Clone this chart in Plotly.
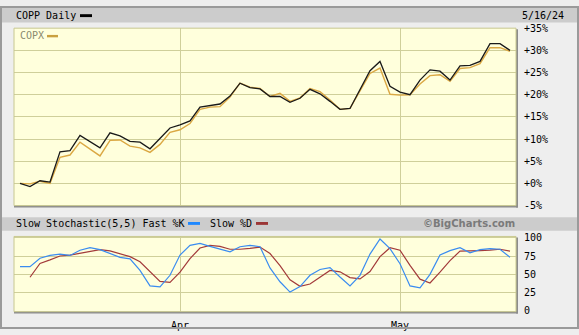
import plotly.graph_objects as go

W, H = 579, 335

dates = [
    "2024-03-07", "2024-03-08", "2024-03-11", "2024-03-12", "2024-03-13", "2024-03-14", "2024-03-15",
    "2024-03-18", "2024-03-19", "2024-03-20", "2024-03-21", "2024-03-22", "2024-03-25", "2024-03-26",
    "2024-03-27", "2024-03-28",
    "2024-04-01", "2024-04-02", "2024-04-03", "2024-04-04", "2024-04-05", "2024-04-08", "2024-04-09",
    "2024-04-10", "2024-04-11", "2024-04-12", "2024-04-15", "2024-04-16", "2024-04-17", "2024-04-18",
    "2024-04-19", "2024-04-22", "2024-04-23", "2024-04-24", "2024-04-25", "2024-04-26", "2024-04-29",
    "2024-04-30",
    "2024-05-01", "2024-05-02", "2024-05-03", "2024-05-06", "2024-05-07", "2024-05-08", "2024-05-09",
    "2024-05-10", "2024-05-13", "2024-05-14", "2024-05-15", "2024-05-16",
]

copp = [0.0, -0.7, 0.6, 0.3, 7.1, 7.4, 10.8, 9.4, 8.0, 11.4, 10.7, 9.5, 9.3, 7.8, 10.1, 12.5,
        13.2, 14.1, 17.2, 17.5, 17.9, 19.7, 22.6, 21.6, 21.3, 19.6, 19.6, 18.3, 19.2, 21.2, 20.2,
        18.5, 16.7, 16.9, 21.2, 25.4, 27.5, 21.9, 20.6, 20.0, 23.3, 25.6, 25.3, 23.3, 26.5, 26.6,
        27.5, 31.5, 31.5, 30.0]

copx = [0.0, -0.1, 0.5, 0.0, 5.9, 6.4, 9.3, 7.8, 6.2, 9.7, 9.8, 8.4, 8.0, 7.0, 8.8, 11.5,
        12.1, 13.5, 16.7, 17.2, 17.3, 19.5, 22.6, 21.7, 21.4, 19.6, 20.3, 18.5, 19.3, 21.4, 20.7,
        18.8, 16.7, 16.9, 21.0, 24.8, 26.0, 20.1, 19.9, 20.0, 22.4, 24.3, 24.5, 23.0, 25.9, 26.1,
        27.0, 30.6, 30.6, 29.8]

fast_k = [60.5, 60.5, 71.9, 75.8, 77.6, 75.8, 82.9, 86.3, 83.7, 78.4, 73.2, 71.1, 55.3, 34.2,
          32.9, 48.7, 76.3, 89.5, 92.1, 88.2, 84.2, 80.7, 87.6, 89.5, 87.6, 58.7, 39.9, 25.8,
          33.3, 48.7, 56.6, 59.2, 46.4, 34.2, 48.7, 77.6, 98.2, 85.0, 64.5, 34.2, 31.6, 50.0,
          76.3, 82.4, 86.3, 79.3, 83.7, 85.0, 84.2, 73.2]

slow_d = [None, 46.0, 64.9, 69.7, 75.0, 76.3, 78.9, 81.6, 83.7, 82.0, 78.0, 74.1, 67.1, 53.9,
          40.3, 39.0, 53.0, 71.4, 85.9, 89.5, 88.2, 84.2, 84.2, 85.5, 87.2, 78.4, 61.8, 42.5,
          33.7, 36.8, 46.0, 55.3, 53.4, 45.5, 43.8, 53.9, 74.1, 86.3, 82.9, 62.2, 43.4, 38.2,
          53.0, 68.8, 81.6, 82.4, 82.4, 82.9, 84.2, 81.6]

pct_ticks = [-5, 0, 5, 10, 15, 20, 25, 30, 35]
pct_labels = ["-5%", "+0%", "+5%", "+10%", "+15%", "+20%", "+25%", "+30%", "+35%"]
sto_ticks = [0, 25, 50, 75, 100]
sto_labels = ["0", "25", "50", "75", "100"]
month_ticks = ["2024-04-01", "2024-05-01"]
month_labels = ["Apr", "May"]


def px(x):
    return x / W


def py(y):
    return 1 - y / H


FONT = "DejaVu Sans Mono"
GRID = "#cfcf9a"
PLOT_BG = "#ffffdc"

fig = go.Figure()
fig.add_trace(go.Scatter(x=dates, y=copx, mode="lines", line=dict(color="#dba843", width=1.4),
                         xaxis="x", yaxis="y", hoverinfo="skip"))
fig.add_trace(go.Scatter(x=dates, y=copp, mode="lines", line=dict(color="#1a1a1a", width=1.3),
                         xaxis="x", yaxis="y", hoverinfo="skip"))
fig.add_trace(go.Scatter(x=dates, y=slow_d, mode="lines", line=dict(color="#a33b3b", width=1.2),
                         xaxis="x2", yaxis="y2", hoverinfo="skip"))
fig.add_trace(go.Scatter(x=dates, y=fast_k, mode="lines", line=dict(color="#3a8cf0", width=1.2),
                         xaxis="x2", yaxis="y2", hoverinfo="skip"))

xdom = [px(14), px(516)]
xcommon = dict(type="category", domain=xdom, range=[-0.6, len(dates) - 0.4],
               tickvals=month_ticks, showgrid=True, gridcolor=GRID, gridwidth=1,
               zeroline=False, showline=False, fixedrange=True)

shapes = []
# outer frame
shapes.append(dict(type="rect", xref="paper", yref="paper", x0=px(1), x1=px(578), y0=py(334), y1=py(1),
                   line=dict(color="#9a9a9a", width=2), fillcolor="rgba(0,0,0,0)", layer="above"))
# header bars
shapes.append(dict(type="rect", xref="paper", yref="paper", x0=px(2), x1=px(577), y0=py(17), y1=py(2),
                   line=dict(width=0), fillcolor="#cccccc", layer="below"))
shapes.append(dict(type="rect", xref="paper", yref="paper", x0=px(2), x1=px(577), y0=py(233), y1=py(219),
                   line=dict(width=0), fillcolor="#cccccc", layer="below"))
# panel shadows
for top, bot in [(23, 207), (239, 317)]:
    shapes.append(dict(type="line", xref="paper", yref="paper", x0=px(14), x1=px(518), y0=py(bot + 1), y1=py(bot + 1),
                       line=dict(color="#8c8c8c", width=2), layer="above"))
    shapes.append(dict(type="line", xref="paper", yref="paper", x0=px(517), x1=px(517), y0=py(bot + 2), y1=py(top + 1),
                       line=dict(color="#8c8c8c", width=2), layer="above"))
    shapes.append(dict(type="rect", xref="paper", yref="paper", x0=px(14), x1=px(516), y0=py(bot), y1=py(top),
                       line=dict(color="#c8c890", width=1), fillcolor="rgba(0,0,0,0)", layer="above"))
# legend dashes
shapes.append(dict(type="rect", xref="paper", yref="paper", x0=px(80), x1=px(92), y0=py(11.5), y1=py(8.5),
                   line=dict(width=0), fillcolor="#000000"))
shapes.append(dict(type="rect", xref="paper", yref="paper", x0=px(47), x1=px(58), y0=py(32.5), y1=py(30),
                   line=dict(width=0), fillcolor="#c9a040", layer="above"))
shapes.append(dict(type="rect", xref="paper", yref="paper", x0=px(188), x1=px(200), y0=py(227), y1=py(224),
                   line=dict(width=0), fillcolor="#1e88ff"))
shapes.append(dict(type="rect", xref="paper", yref="paper", x0=px(256), x1=px(268), y0=py(227), y1=py(224),
                   line=dict(width=0), fillcolor="#9b3535"))

ann = []
def text(x, y, s, anchor="left", color="#000000", size=10, family=FONT):
    ann.append(dict(xref="paper", yref="paper", x=px(x), y=py(y), text=s, showarrow=False,
                    xanchor=anchor, yanchor="middle", font=dict(family=family, size=size, color=color)))

text(14, 10, "COPP Daily")
text(566, 10, "5/16/24", anchor="right")
text(18, 31, "COPX", color="#8a8a6e")
text(14, 226, "Slow Stochastic(5,5) Fast %K")
text(208, 226, "Slow %D")
text(517, 226, "<b>©BigCharts.com</b>", anchor="right", color="#7a7a7a", size=10, family="DejaVu Sans")

fig.update_layout(
    width=W, height=H, margin=dict(l=0, r=0, t=0, b=0),
    paper_bgcolor="#eeeeee", plot_bgcolor=PLOT_BG, showlegend=False,
    font=dict(family=FONT, size=10, color="#000000"),
    xaxis=dict(**xcommon, anchor="y", showticklabels=False),
    xaxis2=dict(**xcommon, anchor="y2", ticktext=month_labels, showticklabels=True,
                ticks="outside", ticklen=4, tickcolor="rgba(0,0,0,0)",
                tickfont=dict(family=FONT, size=10, color="#000000")),
    yaxis=dict(domain=[py(207), py(23)], range=[-5, 35], side="right", anchor="x",
               tickvals=pct_ticks, ticktext=pct_labels, showgrid=True, gridcolor=GRID,
               zeroline=False, showline=False, ticks="outside", ticklen=5,
               tickcolor="rgba(0,0,0,0)", fixedrange=True,
               tickfont=dict(family=FONT, size=10, color="#000000")),
    yaxis2=dict(domain=[py(317), py(239)], range=[-0.9, 101.7], side="right", anchor="x2",
                tickvals=sto_ticks, ticktext=sto_labels, showgrid=True, gridcolor=GRID,
                zeroline=False, showline=False, ticks="outside", ticklen=5,
                tickcolor="rgba(0,0,0,0)", fixedrange=True,
                tickfont=dict(family=FONT, size=10, color="#000000")),
    shapes=shapes, annotations=ann,
)

fig.write_html("out.html", config={"displayModeBar": False})
